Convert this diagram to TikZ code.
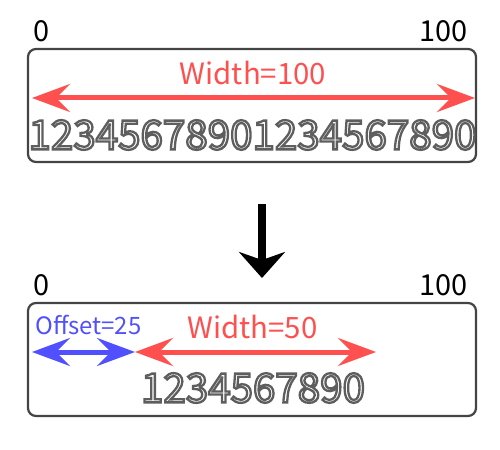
\documentclass[tikz,border=0pt]{standalone}
\usepackage{fontspec}
\setmainfont{Noto Sans CJK SC}
\usetikzlibrary{arrows.meta,positioning}
\definecolor{widthred}{RGB}{255,80,80}
\definecolor{offsetblue}{RGB}{80,80,255}
\definecolor{framegray}{RGB}{68,68,68}
% hollow digits: stroke only, grey outline
\newcommand{\outlined}[1]{\special{pdf:literal direct 1 Tr 2.3 w 0.37 0.37 0.37 RG}#1\special{pdf:literal direct 0 Tr}}

\begin{document}
\begin{tikzpicture}[x=1bp,y=-1bp,
					every node/.style={inner sep=0pt},
					frame/.style={draw=framegray, line width=2.2bp, rounded corners=8bp,
						minimum width=448bp, minimum height=113bp},
					ruler/.style={font=\fontsize{29}{29}\selectfont},
					widthlabel/.style={text=widthred, font=\fontsize{29.5}{29.5}\selectfont},
					offsetlabel/.style={text=offsetblue, font=\fontsize{24}{24}\selectfont},
					digits/.style={font=\fontsize{40.5}{40.5}\selectfont},
					dim/.style={line width=5bp,
						{Stealth[length=38bp,width=28bp,inset=14bp]}-{Stealth[length=38bp,width=28bp,inset=14bp]}}]
				\useasboundingbox (0,0) rectangle (500,450);
				% before
				\node[frame] (top) at (252,105.5) {};
				\node[ruler] (zero top) at (42,31.5) {0};
				\node[ruler] (hundred top) at (443.5,31.5) {100};
				\node[widthlabel] (width top) at (253,73) {Width=100};
				\coordinate (width top left) at (32,98);
				\coordinate (width top right) at (475,98);
				\draw[dim, widthred] (width top left) -- (width top right);
				\node[digits] (digits top) at (252.5,135) {\outlined{12345678901234567890}};
				% after
				\coordinate (down start) at (262,204);
				\coordinate (down end) at (262,278);
				\draw[line width=8bp, -{Stealth[length=26bp,width=46bp,inset=8bp]}] (down start) -- (down end);
				\node[frame] (bottom) at (252,359.5) {};
				\node[ruler] (zero bottom) at (42,285) {0};
				\node[ruler] (hundred bottom) at (443.5,285) {100};
				\node[offsetlabel] (offset) at (88.5,325) {Offset=25};
				\node[widthlabel] (width bottom) at (252.5,327) {Width=50};
				\coordinate (offset left) at (32,352);
				\coordinate (offset right) at (135,352);
				\coordinate (width bottom right) at (376,352);
				\draw[dim, offsetblue] (offset left) -- (offset right);
				\draw[dim, widthred] (offset right) -- (width bottom right);
				\node[digits] (digits bottom) at (253,388) {\outlined{1234567890}};
			\end{tikzpicture}
\end{document}
